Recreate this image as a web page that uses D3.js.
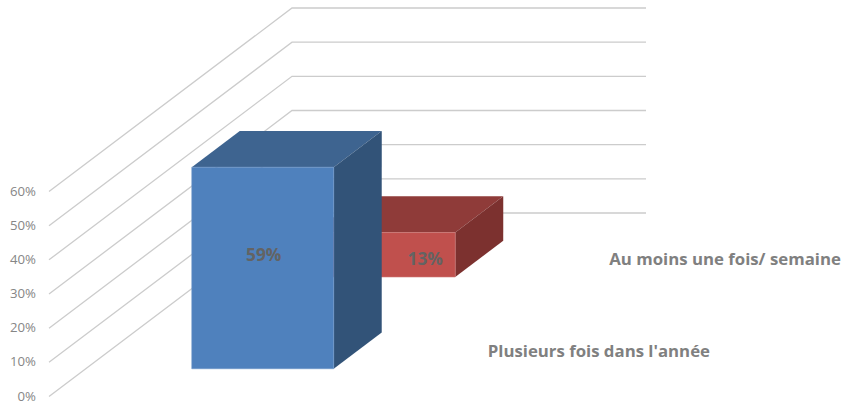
<!DOCTYPE html>
<html>
<head>
<meta charset="utf-8">
<title></title>
<script src="https://cdn.jsdelivr.net/npm/d3@7"></script>
<style>
html, body { margin: 0; padding: 0; background: #fff; }
svg { display: block; }
text { font-family: "Open Sans", Lato, sans-serif; }
</style>
</head>
<body>
<svg id="svg"></svg>
<script>
const series = ["Plusieurs fois dans l'année", "Au moins une fois/ semaine"];
const values = [0.59, 0.13];
const ticks = [0, 0.1, 0.2, 0.3, 0.4, 0.5, 0.6];
const category = [""];

const width = 843, height = 405;
const svg = d3.select('#svg').attr('width', width).attr('height', height);

// front left corner of the floor, and how far the chart runs in depth
const origin = [49, 396.5];
const depth = [243, -183.5];

const x = d3.scaleBand().domain(category).range([0, 354])
  .paddingInner(0.599).paddingOuter(0.2995);
const y = d3.scaleLinear().domain([0, 0.6]).range([0, -205]);
const z = d3.scaleBand().domain(series).range([0, 1])
  .paddingInner(0.605).paddingOuter(0.3025);

// oblique projection: x across, v up, t from front (0) to back (1)
function project(px, v, t) {
  return [origin[0] + px + t * depth[0], origin[1] + y(v) + t * depth[1]];
}
const poly = pts => pts.map(p => p.join(',')).join(' ');

// gridlines on floor side and back wall
const grid = svg.append('g').attr('fill', 'none').attr('stroke', '#cccccc').attr('stroke-width', 1.3);
grid.selectAll('polyline').data(ticks).join('polyline')
  .attr('points', d => poly([project(0, d, 0), project(0, d, 1), project(x.range()[1], d, 1)]));

svg.append('g').selectAll('text').data(ticks).join('text')
  .attr('x', 36)
  .attr('y', d => project(0, d, 0)[1] + 4)
  .attr('text-anchor', 'end')
  .attr('font-size', 13.2)
  .attr('fill', '#868686')
  .text(d3.format('.0%'));

const palette = {
  [series[0]]: { front: '#4f81bd', top: '#3e6490', side: '#325378', edge: '#6d96c8' },
  [series[1]]: { front: '#c0504d', top: '#8f3b39', side: '#7c312f', edge: '#cf7a77' }
};

// back bar first so the front one covers it
const order = series.map((s, i) => ({ s, v: values[i] })).reverse();
const x0 = x(category[0]), x1 = x0 + x.bandwidth();

const bars = svg.append('g').selectAll('g').data(order).join('g');
bars.append('polygon')
  .attr('points', d => {
    const t0 = z(d.s), t1 = t0 + z.bandwidth();
    return poly([project(x0, d.v, t0), project(x0, d.v, t1), project(x1, d.v, t1), project(x1, d.v, t0)]);
  })
  .attr('fill', d => palette[d.s].top);
bars.append('polygon')
  .attr('points', d => {
    const t0 = z(d.s), t1 = t0 + z.bandwidth();
    return poly([project(x1, 0, t0), project(x1, 0, t1), project(x1, d.v, t1), project(x1, d.v, t0)]);
  })
  .attr('fill', d => palette[d.s].side);
bars.append('polygon')
  .attr('points', d => {
    const t0 = z(d.s);
    return poly([project(x0, 0, t0), project(x1, 0, t0), project(x1, d.v, t0), project(x0, d.v, t0)]);
  })
  .attr('fill', d => palette[d.s].front)
  .attr('stroke', d => palette[d.s].edge)
  .attr('stroke-width', 0.6);

// data labels, nudged the way the original has them
const labelShift = { [series[0]]: [1, -13], [series[1]]: [41, 4] };
svg.append('g').selectAll('text').data(order).join('text')
  .attr('x', d => project(x0 + x.bandwidth() / 2, d.v / 2, z(d.s))[0] + labelShift[d.s][0])
  .attr('y', d => project(x0 + x.bandwidth() / 2, d.v / 2, z(d.s))[1] + labelShift[d.s][1] + 6)
  .attr('text-anchor', 'middle')
  .attr('font-size', 17.3)
  .attr('font-weight', 700)
  .attr('fill', '#636363')
  .text(d => d3.format('.0%')(d.v));

// series names along the depth axis
svg.append('g').selectAll('text').data(series).join('text')
  .attr('x', d => project(x.range()[1], 0, z(d) + z.bandwidth() / 2)[0] + 24)
  .attr('y', d => project(x.range()[1], 0, z(d) + z.bandwidth() / 2)[1] + 6)
  .attr('font-size', 16.8)
  .attr('font-weight', 700)
  .attr('fill', '#808080')
  .text(d => d);
</script>
</body>
</html>
